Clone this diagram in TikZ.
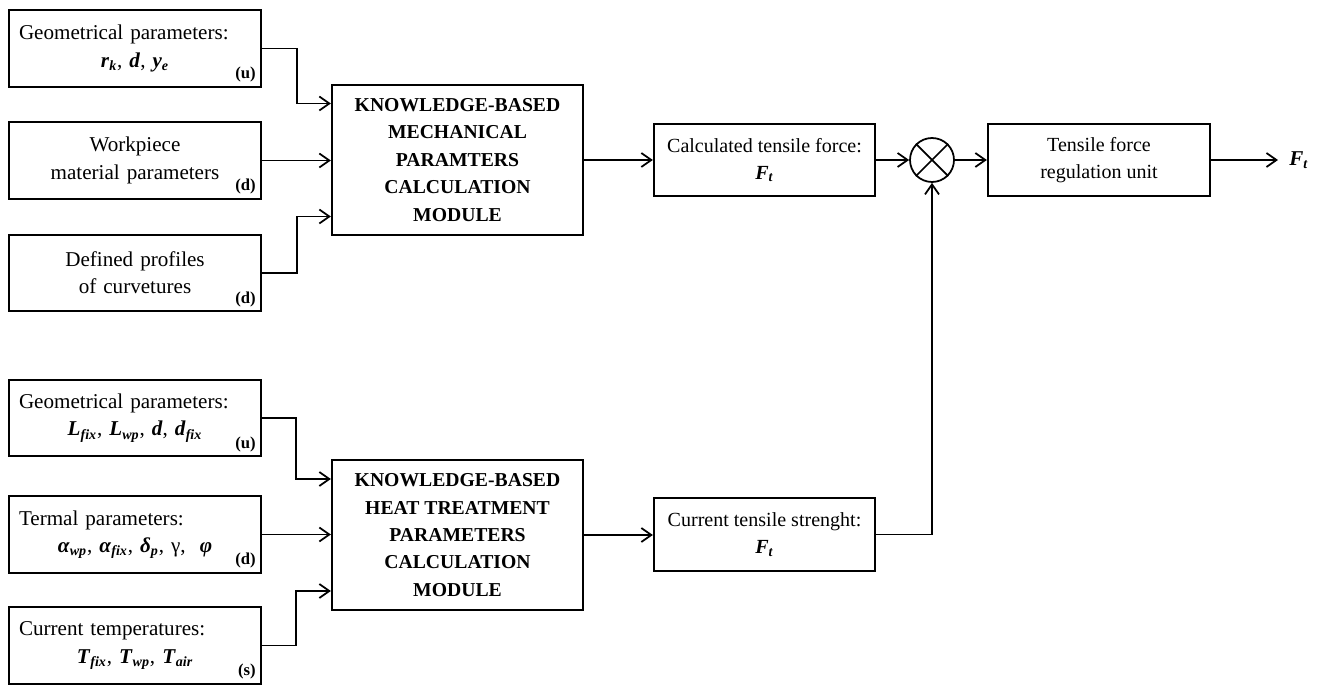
\documentclass[tikz,border=0pt]{standalone}
\usepackage{fontspec}
\setmainfont{Liberation Serif}
\usetikzlibrary{positioning,arrows.meta,calc}
\newcommand{\bv}[1]{\textbf{\textit{#1}}}
\newcommand{\sbv}[2]{\bv{#1}\textsubscript{\bv{#2}}}

\begin{document}
\begin{tikzpicture}[font=\fontsize{12}{15.5}\selectfont,
  inp/.style={draw,line width=1.3pt,minimum width=5.04cm,minimum height=1.53cm,text width=4.64cm,align=center,inner sep=0pt},
  mod/.style={draw,line width=1.3pt,minimum width=5.02cm,minimum height=3cm,align=center,font=\fontsize{11.2}{15.6}\selectfont\bfseries},
  blk/.style={draw,line width=1.3pt,minimum width=4.42cm,minimum height=1.45cm,align=center,font=\fontsize{11.4}{15.4}\selectfont},
  ar/.style={-{Straight Barb[length=2mm,width=2.8mm]},line width=1pt},
  tag/.style={font=\fontsize{9.5}{10}\selectfont\bfseries,inner sep=0pt}]
\useasboundingbox (0,0) rectangle (26.44,13.74);
% input blocks
\node[inp] (gA) at (2.70,12.77) {Geometrical parameters:\hfill\null\\ \sbv{r}{k}, \bv{d}, \sbv{y}{e}};
\node[inp] (wp) at (2.70,10.53) {Workpiece\\material parameters};
\node[inp] (prof) at (2.70,8.28) {Defined profiles\\of curvetures};
\node[inp] (gB) at (2.70,5.38) {Geometrical parameters:\hfill\null\\ \sbv{L}{fix}, \sbv{L}{wp}, \bv{d}, \sbv{d}{fix}};
\node[inp] (term) at (2.70,3.05) {Termal parameters:\hfill\null\\ \sbv{α}{wp}, \sbv{α}{fix}, \sbv{δ}{p}, γ,\ \ \bv{φ}};
\node[inp] (temp) at (2.70,0.83) {Current temperatures:\hfill\null\\ \sbv{T}{fix}, \sbv{T}{wp}, \sbv{T}{air}};
\node[tag,above left=0.1cm and 0.12cm of gA.south east] {(u)};
\node[tag,above left=0.1cm and 0.12cm of wp.south east] {(d)};
\node[tag,above left=0.1cm and 0.12cm of prof.south east] {(d)};
\node[tag,above left=0.1cm and 0.12cm of gB.south east] {(u)};
\node[tag,above left=0.1cm and 0.12cm of term.south east] {(d)};
\node[tag,above left=0.1cm and 0.12cm of temp.south east] {(s)};
% modules
\node[mod] (mech) at (9.15,10.54) {KNOWLEDGE-BASED\\MECHANICAL\\PARAMTERS\\CALCULATION\\MODULE};
\node[mod] (heat) at (9.15,3.04) {KNOWLEDGE-BASED\\HEAT TREATMENT\\PARAMETERS\\CALCULATION\\MODULE};
\node[blk] (calc) at (15.29,10.54) {Calculated tensile force:\\\bv{F}\textsubscript{\bv{t}}};
\node[blk] (str) at (15.29,3.05) {Current tensile strenght:\\\bv{F}\textsubscript{\bv{t}}};
\node[draw,circle,line width=1pt,minimum size=0.88cm] (sum) at (18.64,10.54) {};
\draw[line width=1pt] (sum.north east) -- (sum.south west) (sum.north west) -- (sum.south east);
\node[blk,minimum width=4.44cm] (reg) at (21.98,10.54) {Tensile force\\regulation unit};
\coordinate (out) at (25.56,10.54);
\node[right=0.22cm of out,inner sep=0pt] (ft) {\bv{F}\textsubscript{\bv{t}}};
% connectors
\draw[ar] (gA.east) -- ++(0.7,0) |- ($(mech.west)+(0,1.13)$);
\draw[ar] (wp.east) -- (wp.east -| mech.west);
\draw[ar] (prof.east) -- ++(0.7,0) |- ($(mech.west)+(0,-1.13)$);
\draw[ar] (gB.east) -- ++(0.68,0) |- ($(heat.west)+(0,1.12)$);
\draw[ar] (term.east) -- (term.east -| heat.west);
\draw[ar] (temp.east) -- ++(0.68,0) |- ($(heat.west)+(0,-1.12)$);
\draw[ar] (mech.east) -- (mech.east -| calc.west);
\draw[ar] (heat.east) -- (heat.east -| str.west);
\draw[ar] (calc.east) -- (sum.west);
\draw[ar] (str.east) -| (sum.south);
\draw[ar] (sum.east) -- (reg.west);
\draw[ar] (reg.east) -- (out);
\end{tikzpicture}
\end{document}
